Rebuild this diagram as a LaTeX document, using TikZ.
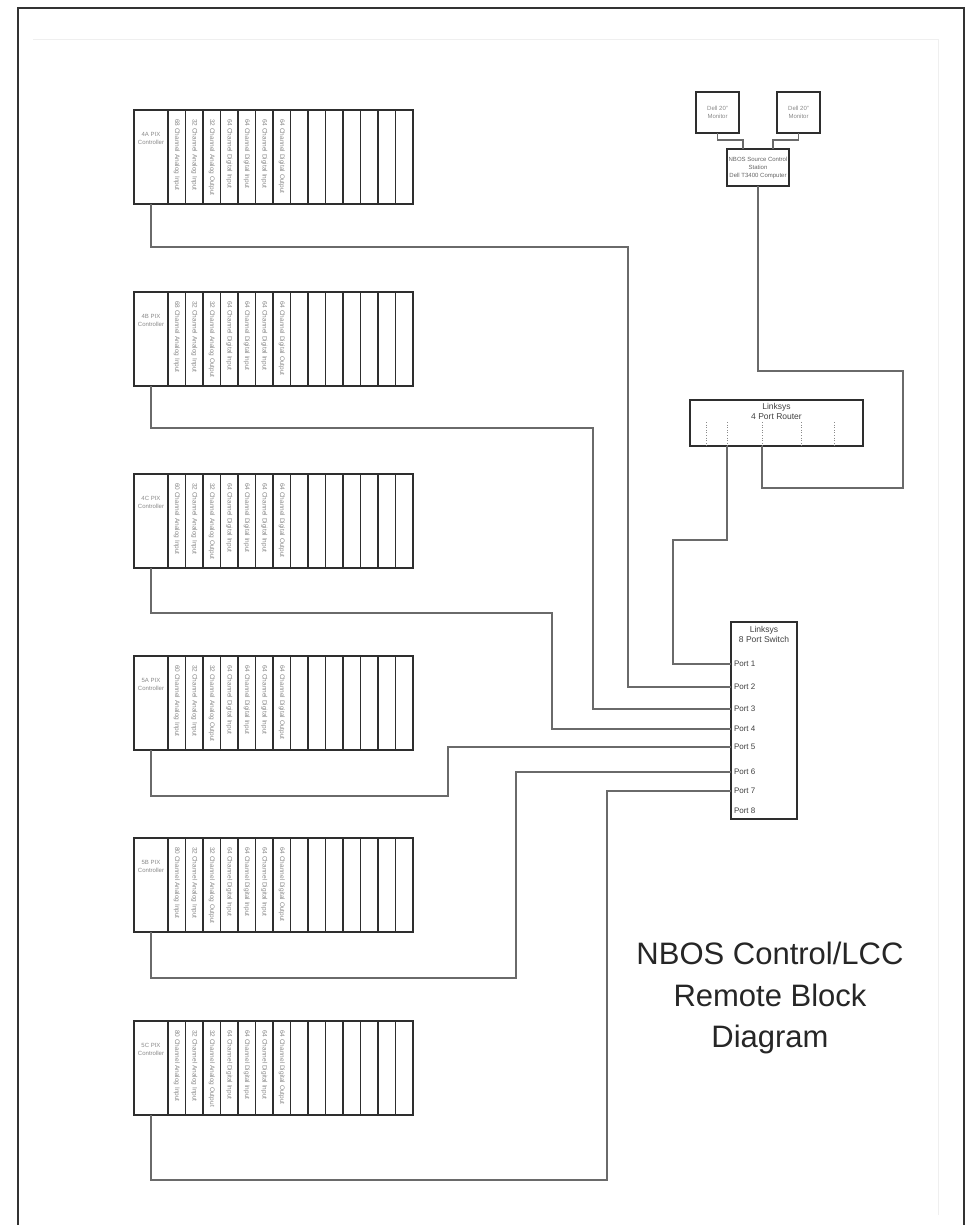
\documentclass[tikz,border=0pt]{standalone}
\usepackage{fontspec}
\setmainfont{Liberation Sans}
\usetikzlibrary{calc}
\definecolor{wirec}{HTML}{6A6A6A}
\definecolor{boxc}{HTML}{2E2E2E}
\definecolor{txtc}{HTML}{8A8A8A}
\definecolor{framec}{HTML}{333333}
\definecolor{faintc}{HTML}{EFEFEF}
\tikzset{
  wire/.style={draw=wirec, line width=1.2pt},
  box/.style={draw=boxc, line width=1.2pt, inner sep=0pt, outer sep=0pt, rectangle},
  slotbox/.style={box, minimum width=17.5pt, minimum height=94pt, anchor=north west},
  ctrlbox/.style={box, minimum width=34pt, minimum height=94pt, anchor=north west},
  tinytxt/.style={font=\fontsize{6}{8}\selectfont, text=txtc, inner sep=0pt, align=center},
  slottxt/.style={font=\fontsize{6.5}{7}\selectfont, text=txtc, inner sep=0pt, rotate=-90, anchor=west},
  devtxt/.style={font=\fontsize{8.5}{10}\selectfont, text=black!75, inner sep=0pt, align=center},
  porttxt/.style={font=\fontsize{8}{9}\selectfont, text=black!75, inner xsep=3pt, inner ysep=0pt, outer sep=0pt, anchor=west},
  rport/.style={draw=txtc, line width=0.6pt, dotted},
}
\newcommand{\drawrack}[3]{%
  \node[ctrlbox] (c#1) at (134,#2) {};
  \node[tinytxt, anchor=north] (cl#1) at ([yshift=-22pt]c#1.north) {#1 PIX\\Controller};
  \foreach \i in {1,...,14} {
    \node[slotbox] (s#1-\i) at ({168+(\i-1)*17.5},#2) {};
  }
  \foreach \i/\t in {1/{#3 Channel Analog Input},2/{32 Channel Analog Input},3/{32 Channel Analog Output},4/{64 Channel Digital Input},5/{64 Channel Digital Input},6/{64 Channel Digital Input},7/{64 Channel Digital Output}} {
    \node[slottxt] (st#1-\i) at ([yshift=-9pt]s#1-\i.north) {\t};
  }
}
\begin{document}
\begin{tikzpicture}[x=1pt,y=-1pt]
\useasboundingbox (0,0) rectangle (968,1225);
\fill[white] (0,0) rectangle (968,1225);
% page frame
\draw[framec, line width=1.5pt] (18,1225) -- (18,8) -- (964,8) -- (964,1225);
\draw[faintc, line width=1pt] (33,40) -- (938,40) -- (938,1215);

% racks
\drawrack{4A}{110}{68}
\drawrack{4B}{292}{68}
\drawrack{4C}{474}{60}
\drawrack{5A}{656}{60}
\drawrack{5B}{838}{80}
\drawrack{5C}{1021}{80}

% monitors and computer
\node[box, minimum width=43pt, minimum height=41pt, anchor=north west] (mon1) at (696,92) {};
\node[tinytxt] (mt1) at (mon1.center) {Dell 20"\\Monitor};
\node[box, minimum width=43pt, minimum height=41pt, anchor=north west] (mon2) at (777,92) {};
\node[tinytxt] (mt2) at (mon2.center) {Dell 20"\\Monitor};
\node[box, minimum width=62pt, minimum height=37pt, anchor=north west] (comp) at (727,149) {};
\node[tinytxt, text=black!60] (ct) at (comp.center) {NBOS Source Control\\Station\\Dell T3400 Computer};
\draw[wire] (mon1.south) -- ++(0,7) -| ([xshift=-15pt]comp.north);
\draw[wire] (mon2.south) -- ++(0,7) -| ([xshift=15pt]comp.north);

% router
\node[box, minimum width=173pt, minimum height=46pt, anchor=north west] (router) at (690,400) {};
\node[devtxt, anchor=north] (rt) at ([yshift=-3pt]router.north) {Linksys\\4 Port Router};
\foreach \n/\x in {1/706,2/727,3/762,4/801,5/834} {
  \coordinate (rp\n) at (\x,446);
  \draw[rport] (\x,422) -- (rp\n);
}

% switch
\node[box, minimum width=66pt, minimum height=197pt, anchor=north west] (switch) at (731,622) {};
\node[devtxt, anchor=north] (swt) at ([yshift=-4pt]switch.north) {Linksys\\8 Port Switch};
\foreach \n/\y in {1/664,2/687,3/709,4/729,5/747,6/772,7/791,8/811} {
  \node[porttxt] (p\n) at (731,\y) {Port \n};
}

% connectors
\draw[wire] (rp3) |- (903,488) |- (758,371) -- (comp.south);
\draw[wire] (rp2) |- (673,540) |- (p1.west);
\draw[wire] (c4A.south) |- (628,247) |- (p2.west);
\draw[wire] (c4B.south) |- (593,428) |- (p3.west);
\draw[wire] (c4C.south) |- (552,613) |- (p4.west);
\draw[wire] (c5A.south) |- (448,796) |- (p5.west);
\draw[wire] (c5B.south) |- (516,978) |- (p6.west);
\draw[wire] (c5C.south) |- (607,1180) |- (p7.west);

% title
\node[font=\fontsize{31}{41.5}\selectfont, text=black!85, align=center, inner sep=0pt] (title) at (770,998) {NBOS Control/LCC\\Remote Block\\Diagram};
\end{tikzpicture}
\end{document}
